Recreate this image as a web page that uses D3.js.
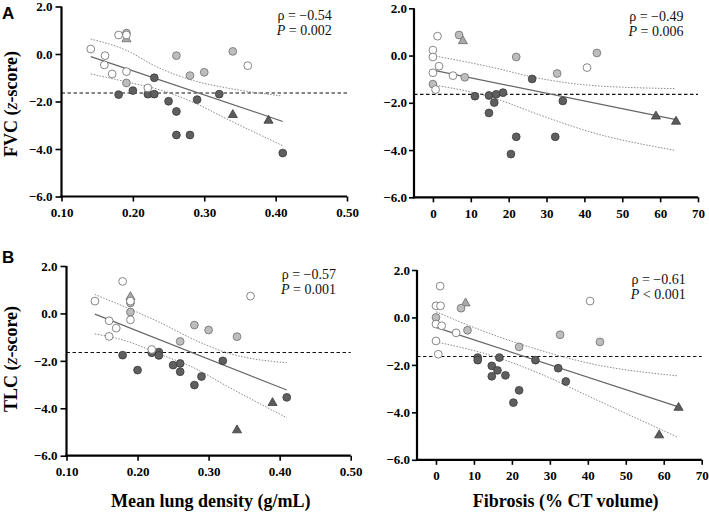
<!DOCTYPE html>
<html><head><meta charset="utf-8">
<script src="https://cdn.jsdelivr.net/npm/d3@7"></script>
<style>body{margin:0;background:#fff}svg{display:block}</style>
</head><body>
<svg id="chart" width="709" height="514"></svg>
<script>
// ---------- tick labels ----------
const yTicks = [2, 0, -2, -4, -6];
const densityTicks = [0.10, 0.20, 0.30, 0.40, 0.50];
const fibrosisTicks = [0, 10, 20, 30, 40, 50, 60, 70];
const lln = -1.645;

// ---------- FVC vs mean lung density ----------
const fvcDensWhite = [[0.141,0.21],[0.161,-0.07],[0.160,-0.46],[0.171,-0.84],[0.180,0.80],[0.191,0.80],[0.191,-0.74],[0.221,-1.43],[0.361,-0.49]];
const fvcDensLight = [[0.191,0.88],[0.191,-1.22],[0.261,-0.07],[0.280,-0.91],[0.300,-0.77],[0.340,0.11]];
const fvcDensDark = [[0.180,-1.71],[0.200,-1.54],[0.221,-1.69],[0.230,-1.69],[0.230,-1.00],[0.250,-1.99],[0.261,-2.42],[0.261,-3.41],[0.280,-3.41],[0.290,-1.92],[0.321,-1.69],[0.410,-4.17]];
const fvcDensTriLight = [[0.191,0.66]];
const fvcDensTriDark = [[0.340,-2.53],[0.390,-2.77]];
const fvcDensFit = [[0.141,-0.11],[0.410,-2.84]];
const fvcDensUpper = [[0.141,0.63],[0.192,0.14],[0.230,-0.49],[0.285,-1.12],[0.332,-1.43],[0.407,-1.76]];
const fvcDensLower = [[0.141,-0.84],[0.192,-1.18],[0.238,-1.51],[0.285,-2.04],[0.332,-2.74],[0.410,-3.86]];

// ---------- FVC vs fibrosis ----------
const fvcFibWhite = [[1.2,0.82],[0,0.23],[0,-0.06],[1.6,-0.45],[0,-0.73],[5.3,-0.85],[0.7,-1.44],[40.7,-0.51]];
const fvcFibLight = [[6.9,0.87],[0,-1.21],[8.4,-0.92],[22.0,-0.06],[32.8,-0.76],[43.3,0.11]];
const fvcFibDark = [[11.1,-1.72],[14.8,-1.69],[16.7,-1.64],[18.5,-1.57],[16.2,-1.99],[14.8,-2.43],[26.2,-0.99],[34.3,-1.92],[22.0,-3.44],[32.3,-3.44],[20.6,-4.17]];
const fvcFibTriLight = [[7.9,0.65]];
const fvcFibTriDark = [[58.9,-2.54],[64.2,-2.76]];
const fvcFibFit = [[0,-0.62],[64.2,-2.71]];
const fvcFibUpper = [[0,0.0],[15.1,-0.48],[28.3,-0.97],[41.5,-1.26],[63.9,-1.40]];
const fvcFibLower = [[0,-1.24],[15.1,-1.75],[28.3,-2.52],[41.5,-3.23],[63.9,-4.01]];

// ---------- TLC vs mean lung density ----------
const tlcDensWhite = [[0.140,0.52],[0.179,1.35],[0.160,-0.31],[0.170,-0.62],[0.160,-0.97],[0.190,0.52],[0.190,-0.27],[0.220,-1.52],[0.359,0.73]];
const tlcDensLight = [[0.190,0.44],[0.190,0.06],[0.260,-1.18],[0.280,-0.49],[0.300,-0.70],[0.340,-0.98]];
const tlcDensDark = [[0.179,-1.76],[0.200,-2.39],[0.220,-1.66],[0.230,-1.63],[0.230,-1.77],[0.250,-2.18],[0.260,-2.11],[0.260,-2.46],[0.280,-3.02],[0.290,-2.66],[0.320,-2.00],[0.410,-3.54]];
const tlcDensTriLight = [[0.190,0.73]];
const tlcDensTriDark = [[0.390,-3.74],[0.340,-4.89]];
const tlcDensFit = [[0.140,-0.03],[0.410,-3.23]];
const tlcDensUpper = [[0.140,0.80],[0.185,0.24],[0.232,-0.39],[0.279,-1.10],[0.326,-1.66],[0.410,-2.08]];
const tlcDensLower = [[0.140,-0.86],[0.185,-1.17],[0.232,-1.73],[0.279,-2.29],[0.326,-3.07],[0.410,-4.40]];

// ---------- TLC vs fibrosis ----------
const tlcFibWhite = [[1.1,1.32],[0,0.49],[1.2,0.49],[0,-0.28],[1.5,-0.35],[5.3,-0.65],[0,-0.99],[0.6,-1.55],[40.6,0.69]];
const tlcFibLight = [[0,0.0],[6.6,0.39],[8.3,-0.54],[21.9,-1.24],[32.7,-0.73],[43.2,-1.03]];
const tlcFibDark = [[11.0,-1.69],[11.0,-1.80],[14.7,-2.04],[14.7,-2.48],[16.2,-2.23],[16.7,-1.69],[18.3,-2.44],[26.2,-1.80],[32.2,-2.14],[34.2,-2.70],[21.9,-3.07],[20.4,-3.59]];
const tlcFibTriLight = [[7.8,0.63]];
const tlcFibTriDark = [[63.9,-3.77],[58.8,-4.93]];
const tlcFibFit = [[0,-0.42],[63.9,-3.77]];
const tlcFibUpper = [[0,0.24],[14.2,-0.68],[27.4,-1.38],[40.6,-1.94],[63.6,-2.46]];
const tlcFibLower = [[0,-1.03],[14.2,-1.59],[27.4,-2.37],[40.6,-3.35],[63.6,-5.04]];

// ---------- panel layout ----------
const panels = [
  {xd:[0.1,0.5], xr:[61.5,347], yr:[196.5,6.5], xt:densityTicks, xf:d3.format(".2f"), ytS:6, ytP:3,
   w:fvcDensWhite, l:fvcDensLight, d:fvcDensDark, tl:fvcDensTriLight, td:fvcDensTriDark,
   fit:fvcDensFit, up:fvcDensUpper, lo:fvcDensLower, rho:"ρ = −0.54", p:" = 0.002", sx:331.7, sy:19.5},
  {xd:[-5,70], xr:[414,698], yr:[197.3,8.3], xt:fibrosisTicks, xf:d3.format("d"), ytS:5, ytP:2,
   w:fvcFibWhite, l:fvcFibLight, d:fvcFibDark, tl:fvcFibTriLight, td:fvcFibTriDark,
   fit:fvcFibFit, up:fvcFibUpper, lo:fvcFibLower, rho:"ρ = −0.49", p:" = 0.006", sx:683.5, sy:20.5},
  {xd:[0.1,0.5], xr:[66.5,350.7], yr:[455.7,266], xt:densityTicks, xf:d3.format(".2f"), ytS:6, ytP:3,
   w:tlcDensWhite, l:tlcDensLight, d:tlcDensDark, tl:tlcDensTriLight, td:tlcDensTriDark,
   fit:tlcDensFit, up:tlcDensUpper, lo:tlcDensLower, rho:"ρ = −0.57", p:" = 0.001", sx:336, sy:278.5},
  {xd:[-5,70], xr:[417,701.7], yr:[459.8,270], xt:fibrosisTicks, xf:d3.format("d"), ytS:5, ytP:2,
   w:tlcFibWhite, l:tlcFibLight, d:tlcFibDark, tl:tlcFibTriLight, td:tlcFibTriDark,
   fit:tlcFibFit, up:tlcFibUpper, lo:tlcFibLower, rho:"ρ = −0.61", p:" < 0.001", sx:685.7, sy:283.5}
];

const svg = d3.select("#chart");
const serif = "'Liberation Serif','Times New Roman',serif";
const sans = "'Liberation Sans',Arial,sans-serif";

panels.forEach(pn => {
  const x = d3.scaleLinear().domain(pn.xd).range(pn.xr);
  const y = d3.scaleLinear().domain([-6,2]).range(pn.yr);
  const g = svg.append("g");

  // LLN dashed line
  g.append("line").attr("x1",pn.xr[0]).attr("x2",pn.xr[1])
    .attr("y1",y(lln)).attr("y2",y(lln))
    .attr("stroke","#111").attr("stroke-width",1.1).attr("stroke-dasharray","3.5,2.5");

  const line = d3.line().x(d=>x(d[0])).y(d=>y(d[1]));
  const curve = d3.line().x(d=>x(d[0])).y(d=>y(d[1])).curve(d3.curveMonotoneX);
  g.append("path").attr("d",curve(pn.up)).attr("fill","none").attr("stroke","#8a8a8a")
    .attr("stroke-width",1).attr("stroke-dasharray","1.5,1.5");
  g.append("path").attr("d",curve(pn.lo)).attr("fill","none").attr("stroke","#8a8a8a")
    .attr("stroke-width",1).attr("stroke-dasharray","1.5,1.5");
  g.append("path").attr("d",line(pn.fit)).attr("fill","none").attr("stroke","#666").attr("stroke-width",1.2);

  // points
  const tri = d3.symbol().type(d3.symbolTriangle).size(36);
  const drawTri = (arr, fill, stroke) => g.selectAll(null).data(arr).enter().append("path")
    .attr("d",tri).attr("transform",d=>`translate(${x(d[0])},${y(d[1])+0.8})`)
    .attr("fill",fill).attr("stroke",stroke).attr("stroke-width",0.8);
  const drawCirc = (arr, fill, stroke) => g.selectAll(null).data(arr).enter().append("circle")
    .attr("cx",d=>x(d[0])).attr("cy",d=>y(d[1])).attr("r",3.9)
    .attr("fill",fill).attr("stroke",stroke).attr("stroke-width",0.8);
  drawTri(pn.tl, "#a9a9a9", "#6a6a6a");
  drawTri(pn.td, "#5c5c5c", "#3c3c3c");
  drawCirc(pn.l, "#bdbdbd", "#6f6f6f");
  drawCirc(pn.d, "#5f5f5f", "#3a3a3a");
  drawCirc(pn.w, "#ffffff", "#6a6a6a");

  // axes
  const yAxis = d3.axisLeft(y).tickValues(yTicks).tickSize(pn.ytS).tickSizeOuter(0).tickPadding(pn.ytP)
    .tickFormat(d3.format(".1f"));
  const xAxis = d3.axisBottom(x).tickValues(pn.xt).tickSize(5).tickSizeOuter(0).tickPadding(6)
    .tickFormat(pn.xf);
  const ya = g.append("g").attr("transform",`translate(${pn.xr[0]},0)`).call(yAxis);
  const xa = g.append("g").attr("transform",`translate(0,${pn.yr[0]})`).call(xAxis);
  [ya, xa].forEach(a => {
    a.select(".domain").attr("stroke","#000").attr("stroke-width",2.2);
    a.selectAll(".tick line").attr("stroke","#000").attr("stroke-width",1.6);
    a.selectAll(".tick text").attr("fill","#000").style("font-family",serif)
      .style("font-weight","bold").style("font-size","13px");
  });
  // extend domain lines to meet at the corner
  ya.select(".domain").attr("d",`M0,${pn.yr[1]}V${pn.yr[0]+1.1}`);
  xa.select(".domain").attr("d",`M${pn.xr[0]-1.1},0H${pn.xr[1]}`);

  // stats text
  const st = g.append("text").attr("text-anchor","end").style("font-family",serif).style("font-size","14px").attr("fill","#111");
  st.append("tspan").attr("x",pn.sx).attr("y",pn.sy).text(pn.rho);
  const t2 = st.append("tspan").attr("x",pn.sx).attr("y",pn.sy+15);
  t2.append("tspan").style("font-style","italic").text("P");
  t2.append("tspan").text(pn.p);
});

// panel letters
svg.append("text").attr("x",2).attr("y",19.3).text("A")
  .style("font-family",sans).style("font-weight","bold").style("font-size","17px");
svg.append("text").attr("x",2).attr("y",262.5).text("B")
  .style("font-family",sans).style("font-weight","bold").style("font-size","17px");

// y axis titles
const yTitle = (cx, cy, lead) => {
  const t = svg.append("text").attr("transform",`translate(${cx},${cy}) rotate(-90)`)
    .attr("text-anchor","middle").style("font-family",serif).style("font-weight","bold").style("font-size","18px");
  t.append("tspan").text(lead + " (");
  t.append("tspan").style("font-style","italic").style("font-weight","normal").text("z");
  t.append("tspan").text("-score)");
};
yTitle(17, 104, "FVC");
yTitle(17, 359, "TLC");

// x axis titles
svg.append("text").attr("x",210.8).attr("y",507).attr("text-anchor","middle")
  .style("font-family",serif).style("font-weight","bold").style("font-size","18px").text("Mean lung density (g/mL)");
svg.append("text").attr("x",565.7).attr("y",507).attr("text-anchor","middle")
  .style("font-family",serif).style("font-weight","bold").style("font-size","18px").text("Fibrosis (% CT volume)");
</script>
</body></html>
